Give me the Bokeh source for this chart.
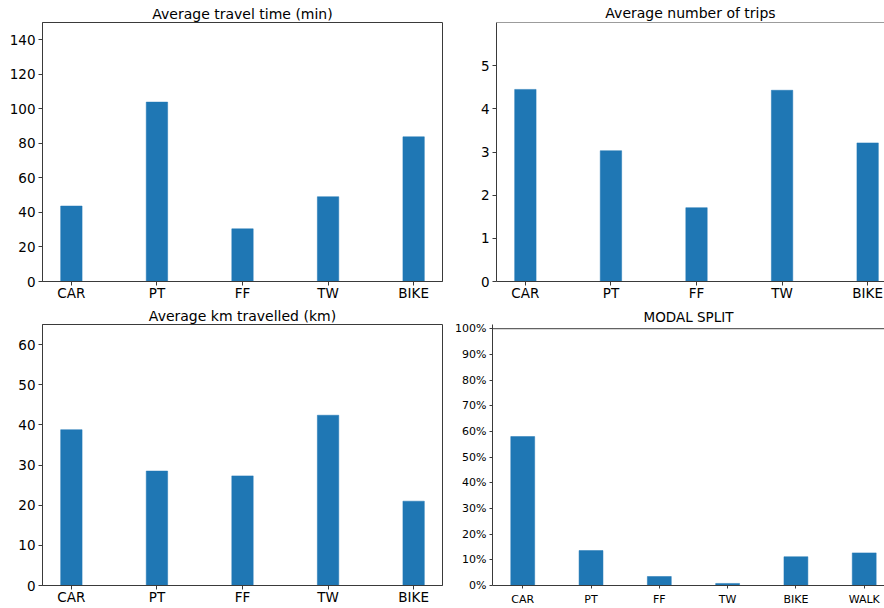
from bokeh.plotting import figure
from bokeh.layouts import column, row
from bokeh.models import Range1d, FixedTicker, NumeralTickFormatter, Span
from bokeh.embed import file_html
from bokeh.resources import INLINE

# ---- data ----
modes = ["CAR", "PT", "FF", "TW", "BIKE"]
travel_time = [43.7, 103.9, 30.5, 49.1, 83.8]
n_trips = [4.45, 3.03, 1.71, 4.43, 3.21]
km_travelled = [38.8, 28.5, 27.3, 42.4, 21.0]
split_modes = ["CAR", "PT", "FF", "TW", "BIKE", "WALK"]
modal_split = [0.580, 0.136, 0.035, 0.008, 0.112, 0.127]

time_ticks = [0, 20, 40, 60, 80, 100, 120, 140]
trip_ticks = [0, 1, 2, 3, 4, 5]
km_ticks = [0, 10, 20, 30, 40, 50, 60]
split_ticks = [0.0, 0.1, 0.2, 0.3, 0.4, 0.5, 0.6, 0.7, 0.8, 0.9, 1.0]

BLUE = "#1f77b4"
FONT = "DejaVu Sans"
TXT = "#000000"
LINE = "#3a3a3a"


def make(title, cats, vals, yticks, yr, top_line, xr, bw, w, h, mb, label_size,
         title_size, title_standoff, tick_len, x_standoff, y_standoff, clipped):
    xs = list(range(len(cats)))
    p = figure(width=w, height=h, x_range=Range1d(*xr), y_range=Range1d(*yr),
               output_backend="svg", toolbar_location=None,
               min_border_left=mb[0], min_border_right=mb[1],
               min_border_top=mb[2], min_border_bottom=mb[3],
               background_fill_color="white", border_fill_color="white")
    p.vbar(x=xs, top=vals, width=bw, fill_color=BLUE, line_color=BLUE, line_width=0.5)
    p.title.text = title
    p.title.text_font = FONT
    p.title.text_font_size = title_size
    p.title.text_font_style = "normal"
    p.title.text_color = TXT
    p.title.align = "center"
    p.title.standoff = title_standoff
    p.xgrid.visible = False
    p.ygrid.visible = False
    p.xaxis.ticker = FixedTicker(ticks=xs)
    p.xaxis.major_label_overrides = {i: c for i, c in enumerate(cats)}
    p.yaxis.ticker = FixedTicker(ticks=yticks)
    for ax in (p.xaxis[0], p.yaxis[0]):
        ax.major_label_text_font = FONT
        ax.major_label_text_font_size = label_size
        ax.major_label_text_color = TXT
        ax.axis_line_color = LINE
        ax.major_tick_line_color = LINE
        ax.major_tick_out = tick_len
        ax.major_tick_in = 0
        ax.minor_tick_line_color = None
    p.xaxis.major_label_standoff = x_standoff
    p.yaxis.major_label_standoff = y_standoff
    if clipped:
        p.outline_line_color = None
        p.add_layout(Span(location=top_line, dimension="width", line_color=LINE, line_width=1))
    else:
        p.outline_line_color = LINE
        p.outline_line_width = 1
    return p


p1 = make("Average travel time (min)", modes, travel_time, time_ticks, (0, 150), 150,
          (-0.3375, 4.3375), 0.25, 450, 303, (42, 8, 22, 20), "13.5px", "14px", 1,
          4, -1, 3, False)
p2 = make("Average number of trips", modes, n_trips, trip_ticks, (0, 6), 6,
          (-0.3375, 4.197), 0.25, 434, 303, (46, 0, 22, 20), "13.5px", "14px", 3,
          4, -1, 3, True)
p3 = make("Average km travelled (km)", modes, km_travelled, km_ticks, (0, 65), 65,
          (-0.3375, 4.3375), 0.25, 450, 305, (42, 8, 21, 23), "13.5px", "14px", 2,
          4, -1, 3, False)
p4 = make("MODAL SPLIT", split_modes, modal_split, split_ticks, (0, 1.0164), 1.0,
          (-0.4425, 5.297), 0.35, 434, 305, (42, 0, 21, 23), "11px", "13.5px", -1,
          3, 4, 3, True)
p4.yaxis.formatter = NumeralTickFormatter(format="0%")

layout = column(row(p1, p2), row(p3, p4))
open("out.html", "w").write(file_html(layout, INLINE))
